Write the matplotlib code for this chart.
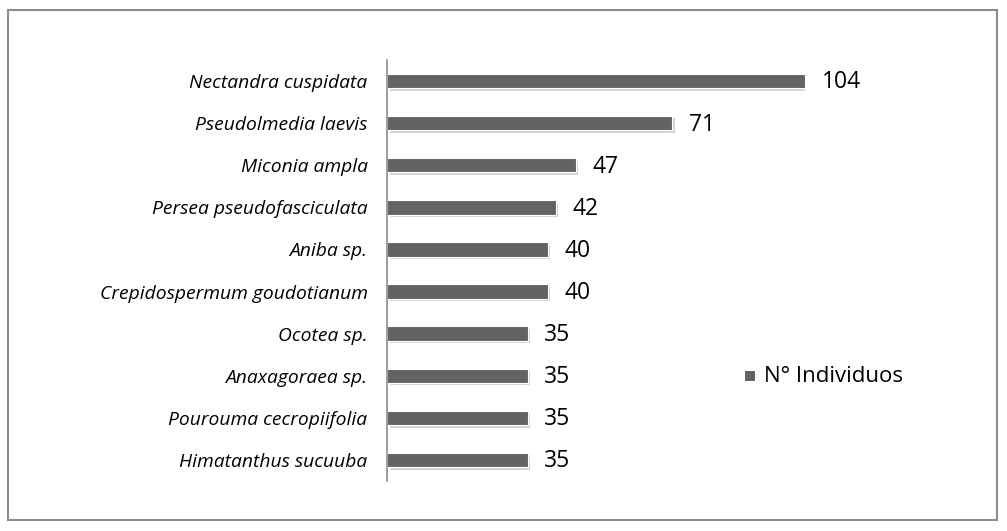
import matplotlib
matplotlib.use('Agg')
import matplotlib.pyplot as plt
import matplotlib.transforms as mtransforms
from matplotlib.patches import Rectangle

# 数据
especies = ['Nectandra cuspidata', 'Pseudolmedia laevis', 'Miconia ampla',
            'Persea pseudofasciculata', 'Aniba sp.', 'Crepidospermum goudotianum',
            'Ocotea sp.', 'Anaxagoraea sp.', 'Pourouma cecropiifolia',
            'Himatanthus sucuuba']
individuos = [104, 71, 47, 42, 40, 40, 35, 35, 35, 35]
serie = 'N° Individuos'

plt.rcParams['font.family'] = ['Open Sans', 'DejaVu Sans']

W, H = 1007, 531
fig = plt.figure(figsize=(W / 100, H / 100), dpi=100)

# 外框
fig.patches.append(Rectangle((8 / W, 1 - 520 / H), 989 / W, 510 / H,
                             transform=fig.transFigure, fill=False,
                             edgecolor='#8c8c8c', linewidth=1.5))

x0, x1 = 387, 805
y_top, y_bot = 60, 481
ax = fig.add_axes([x0 / W, 1 - y_bot / H, (x1 - x0) / W, (y_bot - y_top) / H])

y = list(range(len(especies)))[::-1]
h = 0.34

# 阴影
shadow = mtransforms.offset_copy(ax.transData, fig=fig, x=2.5, y=-2.5, units='dots')
ax.barh(y, individuos, height=h, color='#d4d4d4', transform=shadow, zorder=1)
ax.barh(y, individuos, height=h, color='#636363', edgecolor='white',
        linewidth=0.8, zorder=2, label=serie)

for yi, v in zip(y, individuos):
    ax.annotate(f'{v}', (v, yi), xytext=(12, -1), textcoords='offset points',
                va='center', ha='left', fontsize=16.5, color='black',
                annotation_clip=False)

ax.set_xlim(0, 104)
ax.set_ylim(-0.5, len(especies) - 0.5)
ax.set_yticks(y)
ax.set_yticklabels(especies, fontsize=13.9, style='italic')
ax.tick_params(axis='y', length=0, pad=14)
ax.set_xticks([])
for s in ['top', 'right', 'bottom']:
    ax.spines[s].set_visible(False)
ax.spines['left'].set_color('#8c8c8c')
ax.spines['left'].set_linewidth(1.2)

# 图例
fig.patches.append(Rectangle((745 / W, 1 - 381 / H), 10 / W, 10 / H,
                             transform=fig.transFigure, facecolor='#636363',
                             edgecolor='none'))
fig.text(764 / W, 1 - 377 / H, serie, fontsize=16, va='center', ha='left')

plt.savefig('out.png', dpi=100)
